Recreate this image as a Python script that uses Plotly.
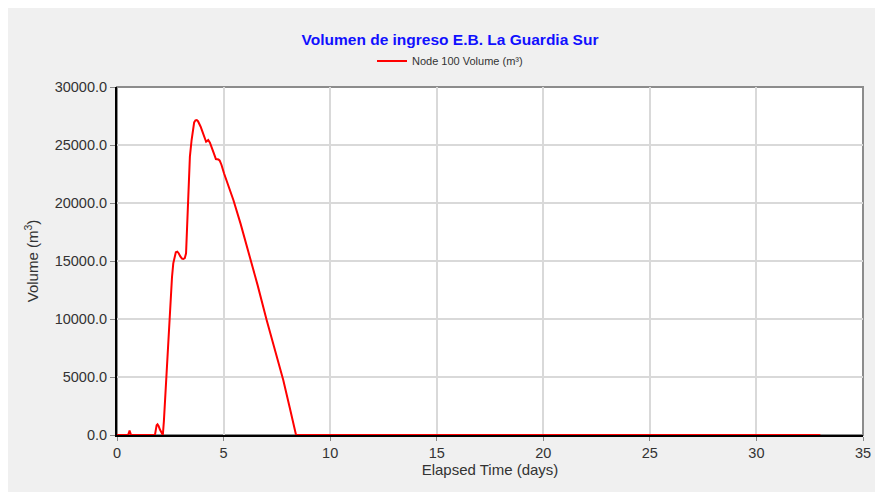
import plotly.graph_objects as go

days = [0.0, 0.52, 0.56, 0.59, 0.62, 0.66, 1.78, 1.82, 1.86, 1.9, 1.95, 2.02, 2.1, 2.15,
        2.2, 2.26, 2.33, 2.41, 2.47, 2.52, 2.58, 2.64, 2.7, 2.76, 2.83, 2.9, 2.97, 3.05, 3.11,
        3.18, 3.24, 3.28, 3.35, 3.42, 3.5, 3.56, 3.62, 3.68, 3.74, 3.8, 3.86, 3.92, 4.0, 4.1, 4.18,
        4.23, 4.28, 4.36, 4.44, 4.54, 4.64, 4.7, 4.76, 4.82, 4.9, 5.02, 5.2, 5.46, 5.8, 6.24,
        6.6, 7.02, 7.4, 7.8, 8.1, 8.4, 10.0, 15.0, 20.0, 25.0, 30.0, 33.0]
volume = [0, 0, 200, 380, 200, 0, 0, 500, 850, 920, 780, 450, 120, 0,
          1200, 3300, 5500, 7600, 9900, 11900, 13600, 14800, 15450, 15750, 15800, 15650, 15400, 15200, 15170,
          15250, 15660, 17500, 21980, 24000, 25430, 26500, 26950, 27130, 27150, 27050, 26850, 26600, 26200, 25700, 25280,
          25350, 25430, 25200, 24860, 24300, 23790, 23800, 23750, 23650, 23300, 22560, 21600, 20260, 18200, 15370,
          12900, 9914, 7400, 4740, 2400, 0, 0, 0, 0, 0, 0, 0]

x_ticks = [0, 5, 10, 15, 20, 25, 30, 35]
y_ticks = [0, 5000, 10000, 15000, 20000, 25000, 30000]

FONT = "Liberation Sans, Arial, sans-serif"
W, H = 875, 492
L, R, T, B = 117, 12, 87, 57
PW, PH = W - L - R, H - T - B
EDGE = 8  # white page edge at top/left


def px_to_paper_x(px):
    return (px - L) / PW


def px_to_paper_y(py):
    return (H - B - py) / PH


fig = go.Figure()
fig.add_trace(go.Scatter(
    x=days, y=volume, mode="lines",
    line=dict(color="#ff0000", width=2),
    name="Node 100 Volume (m³)",
))

# white page edge strips (top and left)
fig.add_shape(type="rect", xref="paper", yref="paper",
              x0=px_to_paper_x(0), x1=px_to_paper_x(EDGE),
              y0=px_to_paper_y(H), y1=px_to_paper_y(0),
              fillcolor="white", line=dict(width=0), layer="below")
fig.add_shape(type="rect", xref="paper", yref="paper",
              x0=px_to_paper_x(0), x1=px_to_paper_x(W),
              y0=px_to_paper_y(EDGE), y1=px_to_paper_y(0),
              fillcolor="white", line=dict(width=0), layer="below")
# plot frame (top/right gray)
fig.add_shape(type="rect", xref="paper", yref="paper",
              x0=0, x1=1, y0=0, y1=1,
              fillcolor="rgba(0,0,0,0)", line=dict(color="#8c8c8c", width=2), layer="below")

fig.update_layout(
    width=W, height=H,
    margin=dict(l=L, r=R, t=T, b=B, autoexpand=False),
    paper_bgcolor="#f0f0f0", plot_bgcolor="white",
    font=dict(family=FONT, color="#333333"),
    title=dict(text="<b>Volumen de ingreso E.B. La Guardia Sur</b>",
               font=dict(family=FONT, size=15.5, color="#1010ff"),
               x=450 / W, xanchor="center", y=1 - 40 / H, yanchor="middle"),
    showlegend=True,
    legend=dict(orientation="h", x=450 / W, xanchor="center", xref="container",
                y=1 - 61 / H, yref="container", yanchor="middle",
                font=dict(family=FONT, size=11, color="#333333"),
                bgcolor="rgba(0,0,0,0)", itemwidth=30),
)
fig.update_xaxes(
    range=[0, 35], tickvals=x_ticks, ticktext=[str(v) for v in x_ticks],
    showgrid=True, gridcolor="#d9d9d9", gridwidth=1.5,
    showline=True, linecolor="black", linewidth=2,
    ticks="outside", ticklen=4, tickcolor="#888888",
    tickfont=dict(size=14.5, color="#333333"),
    title=dict(text="Elapsed Time (days)", font=dict(size=15, color="#333333"), standoff=2),
    zeroline=False,
)
fig.update_yaxes(
    range=[0, 30000], tickvals=y_ticks, ticktext=[f"{v:.1f}" for v in y_ticks],
    showgrid=True, gridcolor="#d9d9d9", gridwidth=1.5,
    showline=True, linecolor="black", linewidth=2,
    ticks="outside", ticklen=5, tickcolor="#888888",
    tickfont=dict(size=14.5, color="#333333"),
    title=dict(text="Volume (m<sup>3</sup>)", font=dict(size=15, color="#333333"), standoff=12),
    zeroline=False,
)

fig.write_html(
    "out.html",
    config={"displayModeBar": False},
    post_script=("document.documentElement.style.overflow='hidden';"
                 "document.documentElement.style.background='#f0f0f0';"
                 "document.body.style.overflow='hidden';"
                 "document.body.style.background='#f0f0f0';"
                 "document.body.style.margin='0';"),
)
